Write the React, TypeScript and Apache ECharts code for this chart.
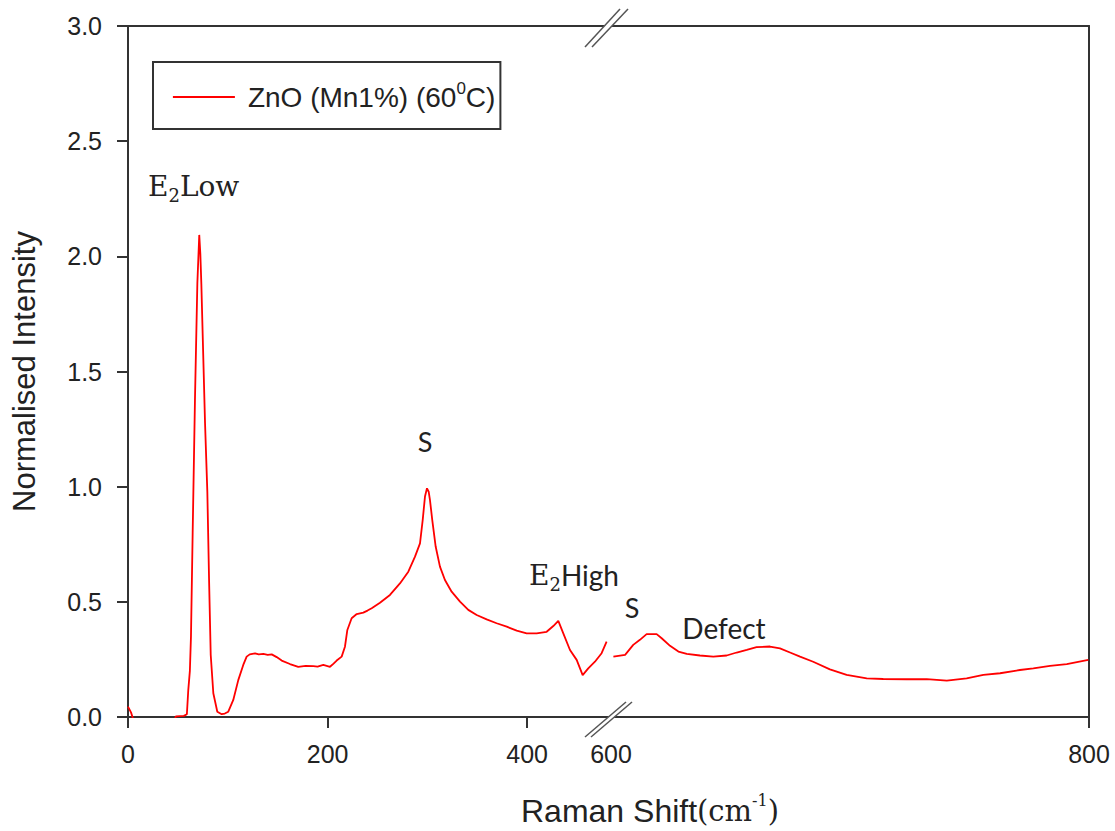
import React, { useEffect, useRef } from "react";
import * as echarts from "echarts";

// ---- data ----
const seriesName = "ZnO (Mn1%)(60⁰C)";

// segment before the axis break (0 – 484 cm-1)
const lowShift = [
  0, 3, 6, 46, 48, 56, 59, 60.4, 62, 63.1, 64.8, 67.1, 69.5, 71.4, 72.5, 73.5, 74.8,
  77.2, 79.5, 81.2, 82.9, 85.5, 89.5, 93.9, 97, 100.5, 105.5, 110.5, 115.5, 118.9,
  122, 127.3, 131, 135.6, 140, 144, 149, 154, 162.3, 170.6, 178, 185.7, 190, 195.7,
  202.4, 206, 209.1, 214.1, 217.4, 219.8, 224.1, 229.2, 235.8, 240, 244.2, 252.5,
  262.5, 272.5, 280.9, 287.6, 292.6, 295.3, 297.6, 299.6, 301.3, 302.6, 304.9,
  308.3, 312.6, 317.6, 324.3, 332.7, 341, 349.4, 359.4, 369.4, 379.5, 389.5, 399.5,
  409.5, 419.5, 426.2, 431.2, 436.2, 442.9, 449.6, 455.6, 461.2, 467.9, 474.6, 479.6,
];
const lowIntensity = [
  0.045, 0.02, -0.02, -0.02, 0.003, 0.005, 0.012, 0.117, 0.2, 0.349, 0.8, 1.376, 1.883,
  2.093, 2.01, 1.88, 1.666, 1.275, 0.978, 0.602, 0.269, 0.103, 0.023, 0.012, 0.015,
  0.023, 0.074, 0.16, 0.226, 0.262, 0.272, 0.276, 0.272, 0.274, 0.27, 0.272, 0.26,
  0.245, 0.23, 0.218, 0.222, 0.221, 0.219, 0.226, 0.218, 0.232, 0.245, 0.262, 0.305,
  0.378, 0.429, 0.447, 0.453, 0.462, 0.472, 0.496, 0.53, 0.58, 0.631, 0.696, 0.754,
  0.855, 0.957, 0.993, 0.978, 0.942, 0.855, 0.74, 0.653, 0.595, 0.544, 0.501, 0.465,
  0.443, 0.424, 0.407, 0.392, 0.375, 0.363, 0.363, 0.37, 0.395, 0.417, 0.363, 0.291,
  0.248, 0.182, 0.211, 0.24, 0.277, 0.327,
];

// segment after the axis break (600 – 800 cm-1)
const highShift = [
  601, 605.9, 609.3, 612.1, 614.9, 619.1, 621.2, 624.7, 628.2, 631.7, 637.2, 642.8,
  648.4, 652.6, 656.8, 660.9, 666.5, 670.7, 674.9, 679.1, 684.6, 691.6, 698.6, 707,
  713.9, 723.7, 732.1, 740.5, 748.8, 755.8, 762.8, 771.1, 776.7, 783.7, 790.7, 799.7,
];
const highIntensity = [
  0.262, 0.27, 0.313, 0.335, 0.36, 0.36, 0.342, 0.309, 0.284, 0.274, 0.267, 0.262,
  0.267, 0.28, 0.291, 0.303, 0.306, 0.298, 0.28, 0.262, 0.24, 0.207, 0.183, 0.168,
  0.165, 0.164, 0.164, 0.158, 0.168, 0.183, 0.19, 0.204, 0.211, 0.222, 0.23, 0.248,
];

const lowTicks = [0, 200, 400];
const highLabels = [600, 800];
const highTicks = [800];

// ---- styling ----
const AXIS = "#333333";
const TXT = "#222222";
const RED = "#ff0000";
const SANS = "Liberation Sans";
const SERIF = "DejaVu Serif";
const CAL = "Lato";

function zip(xs: number[], ys: number[]) {
  return xs.map((x, i) => [x, ys[i]]);
}

export default function App() {
  const ref = useRef<HTMLDivElement>(null);

  useEffect(() => {
    if (!ref.current) return;
    const chart = echarts.init(ref.current, null, { renderer: "svg" });

    const axisLine = { show: true, lineStyle: { color: AXIS, width: 2 } };
    const tickLabel = { color: TXT, fontSize: 25, fontFamily: SANS };

    const borderX = (gridIndex: number, min: number, max: number) => ({
      type: "value",
      gridIndex,
      position: "top",
      min,
      max,
      axisLine,
      axisTick: { show: false },
      axisLabel: { show: false },
      splitLine: { show: false },
    });

    const option: any = {
      animation: false,
      backgroundColor: "#ffffff",
      grid: [
        { left: 128, top: 26, width: 483, height: 691 },
        { left: 611, top: 26, width: 478, height: 691 },
      ],
      legend: {
        left: 153,
        top: 62,
        data: [seriesName],
        borderColor: AXIS,
        borderWidth: 2,
        borderRadius: 0,
        padding: [18, 5, 18, 19],
        itemWidth: 62,
        itemHeight: 14,
        itemStyle: { opacity: 0 },
        lineStyle: { color: RED, width: 1.8 },
        formatter: () => "{f|ZnO (Mn1%) (60}{sup|0}{t|C)}",
        textStyle: {
          color: TXT,
          fontFamily: SANS,
          fontSize: 28,
          rich: {
            f: { fontFamily: SANS, fontSize: 28, lineHeight: 34, color: TXT, padding: [0, 0, 0, 8] },
            t: { fontFamily: SANS, fontSize: 28, lineHeight: 34, color: TXT },
            sup: { fontFamily: SANS, fontSize: 17, lineHeight: 24, verticalAlign: "top", color: TXT },
          },
        },
      },
      xAxis: [
        {
          type: "value",
          gridIndex: 0,
          position: "bottom",
          min: 0,
          max: 484,
          interval: 200,
          axisLine,
          axisTick: { show: true, length: 11, customValues: lowTicks, lineStyle: { color: AXIS, width: 2 } },
          axisLabel: { ...tickLabel, margin: 24, customValues: lowTicks },
          splitLine: { show: false },
        },
        {
          type: "value",
          gridIndex: 1,
          position: "bottom",
          min: 600,
          max: 800,
          interval: 200,
          axisLine,
          axisTick: { show: true, length: 11, customValues: highTicks, lineStyle: { color: AXIS, width: 2 } },
          axisLabel: { ...tickLabel, margin: 24, customValues: highLabels },
          splitLine: { show: false },
        },
        borderX(0, 0, 484),
        borderX(1, 600, 800),
      ],
      yAxis: [
        {
          type: "value",
          gridIndex: 0,
          position: "left",
          min: 0,
          max: 3,
          interval: 0.5,
          axisLine,
          axisTick: { show: true, length: 11, lineStyle: { color: AXIS, width: 2 } },
          axisLabel: { ...tickLabel, margin: 26, formatter: (v: number) => v.toFixed(1) },
          splitLine: { show: false },
          name: "Normalised Intensity",
          nameLocation: "middle",
          nameGap: 88,
          nameTextStyle: { color: TXT, fontSize: 31, fontFamily: SANS },
        },
        {
          type: "value",
          gridIndex: 1,
          position: "right",
          min: 0,
          max: 3,
          interval: 0.5,
          axisLine,
          axisTick: { show: false },
          axisLabel: { show: false },
          splitLine: { show: false },
        },
      ],
      series: [
        {
          name: seriesName,
          type: "line",
          xAxisIndex: 0,
          yAxisIndex: 0,
          data: zip(lowShift, lowIntensity),
          symbol: "none",
          showSymbol: false,
          clip: true,
          lineStyle: { color: RED, width: 1.8 },
          itemStyle: { color: RED },
        },
        {
          name: seriesName,
          type: "line",
          xAxisIndex: 1,
          yAxisIndex: 1,
          data: zip(highShift, highIntensity),
          symbol: "none",
          showSymbol: false,
          clip: true,
          lineStyle: { color: RED, width: 1.8 },
          itemStyle: { color: RED },
        },
      ],
      graphic: [
        // axis-break marks (top)
        { type: "polygon", z: 100, shape: { points: [[585, 47], [620, 9], [628, 9], [592, 47]] }, style: { fill: "#ffffff", stroke: "none" } },
        { type: "line", z: 101, shape: { x1: 585, y1: 47, x2: 620, y2: 9 }, style: { stroke: "#555", lineWidth: 1.5 } },
        { type: "line", z: 101, shape: { x1: 592, y1: 47, x2: 628, y2: 9 }, style: { stroke: "#555", lineWidth: 1.5 } },
        // axis-break marks (bottom)
        { type: "polygon", z: 100, shape: { points: [[585, 737], [626, 702], [632, 702], [591, 737]] }, style: { fill: "#ffffff", stroke: "none" } },
        { type: "line", z: 101, shape: { x1: 585, y1: 737, x2: 626, y2: 702 }, style: { stroke: "#555", lineWidth: 1.5 } },
        { type: "line", z: 101, shape: { x1: 591, y1: 737, x2: 632, y2: 702 }, style: { stroke: "#555", lineWidth: 1.5 } },
        // peak annotations
        {
          type: "text", z: 110, x: 148, y: 186,
          style: {
            text: "{e|E}{sub|2}{e|Low}",
            textAlign: "left", textVerticalAlign: "middle",
            rich: {
              e: { fontFamily: SERIF, fontSize: 28, lineHeight: 36, fill: TXT, color: TXT },
              sub: { fontFamily: SERIF, fontSize: 18, lineHeight: 18, verticalAlign: "bottom", fill: TXT, color: TXT },
            },
          },
        },
        {
          type: "text", z: 110, x: 425, y: 441,
          style: { text: "S", textAlign: "center", textVerticalAlign: "middle", fontFamily: CAL, fontSize: 27, fill: TXT },
        },
        {
          type: "text", z: 110, x: 529, y: 575,
          style: {
            text: "{e|E}{sub|2}{h|High}",
            textAlign: "left", textVerticalAlign: "middle",
            rich: {
              e: { fontFamily: SERIF, fontSize: 28, lineHeight: 36, fill: TXT, color: TXT },
              sub: { fontFamily: SERIF, fontSize: 18, lineHeight: 18, verticalAlign: "bottom", fill: TXT, color: TXT },
              h: { fontFamily: CAL, fontSize: 28, lineHeight: 36, fill: TXT, color: TXT },
            },
          },
        },
        {
          type: "text", z: 110, x: 632, y: 607,
          style: { text: "S", textAlign: "center", textVerticalAlign: "middle", fontFamily: CAL, fontSize: 27, fill: TXT },
        },
        {
          type: "text", z: 110, x: 724, y: 628,
          style: { text: "Defect", textAlign: "center", textVerticalAlign: "middle", fontFamily: CAL, fontSize: 28, fill: TXT },
        },
        // x-axis title
        {
          type: "text", z: 110, x: 650, y: 811,
          style: {
            text: "{a|Raman Shift}{b|(cm}{s|-1}{b|)}",
            textAlign: "center", textVerticalAlign: "middle",
            rich: {
              a: { fontFamily: SANS, fontSize: 32, lineHeight: 38, fill: TXT, color: TXT },
              b: { fontFamily: SERIF, fontSize: 29, lineHeight: 38, fill: TXT, color: TXT },
              s: { fontFamily: SERIF, fontSize: 16, lineHeight: 26, verticalAlign: "top", fill: TXT, color: TXT },
            },
          },
        },
      ],
    };

    chart.setOption(option);
    return () => chart.dispose();
  }, []);

  return (
    <div
      ref={ref}
      style={{ position: "absolute", left: 0, top: 0, width: 1115, height: 831, background: "#fff" }}
    />
  );
}
